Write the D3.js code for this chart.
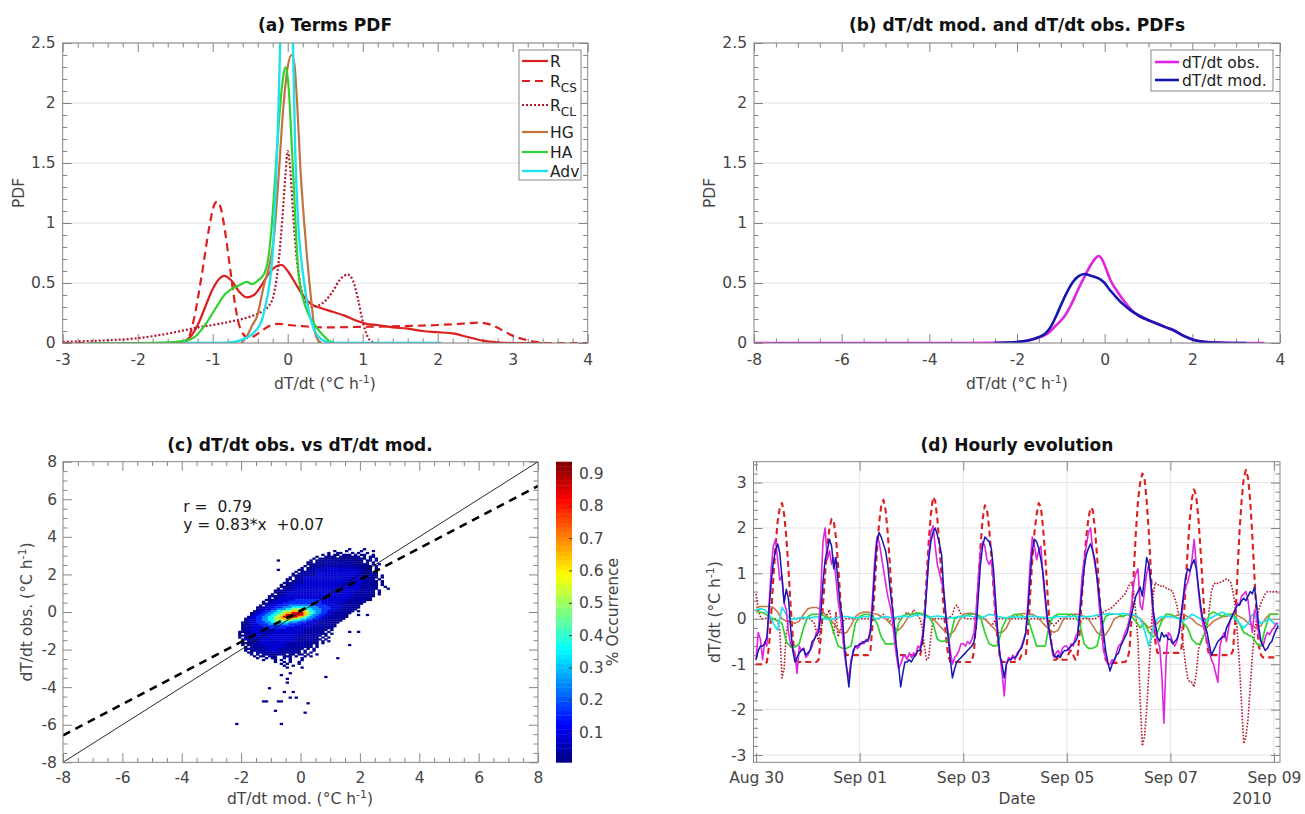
<!DOCTYPE html>
<html>
<head>
<meta charset="utf-8">
<title>dT/dt budget terms</title>
<script src="https://cdn.jsdelivr.net/npm/d3@7"></script>
<style>
  html,body{margin:0;padding:0;background:#fff;}
  svg{display:block;}
  text{font-family:"DejaVu Sans","Liberation Sans",sans-serif;}
</style>
</head>
<body>
<svg id="fig" width="1305" height="814"></svg>
<script>
// ======================= DATA =======================
// ---- panel (a): PDFs of the budget terms ([dT/dt, PDF]) ----
const termNames = ["R", "R_CS", "R_CL", "HG", "HA", "Adv"];
const pdfR = [[-1.6,0],[-1.4,0.01],[-1.3,0.05],[-1.2,0.15],[-1.1,0.3],[-1.0,0.45],[-0.92,0.53],[-0.85,0.56],[-0.75,0.52],[-0.65,0.43],[-0.55,0.38],[-0.45,0.4],[-0.35,0.48],[-0.25,0.58],[-0.15,0.64],[-0.08,0.65],[0.0,0.6],[0.1,0.5],[0.2,0.4],[0.3,0.33],[0.45,0.29],[0.6,0.26],[0.75,0.23],[0.9,0.19],[1.05,0.16],[1.2,0.15],[1.4,0.13],[1.6,0.12],[1.8,0.1],[2.0,0.09],[2.2,0.08],[2.4,0.05],[2.6,0.02],[2.8,0.005],[3.0,0],[3.4,0]];
const pdfRcs = [[-3,0],[-1.4,0],[-1.33,0.03],[-1.25,0.2],[-1.15,0.55],[-1.05,0.95],[-0.98,1.15],[-0.94,1.18],[-0.89,1.12],[-0.84,0.95],[-0.78,0.68],[-0.72,0.4],[-0.66,0.18],[-0.6,0.08],[-0.52,0.04],[-0.44,0.06],[-0.35,0.1],[-0.25,0.14],[-0.12,0.16],[0.0,0.15],[0.2,0.14],[0.5,0.13],[1.0,0.135],[1.5,0.14],[2.0,0.15],[2.3,0.16],[2.55,0.17],[2.72,0.15],[2.88,0.1],[3.0,0.06],[3.15,0.03],[3.3,0.01],[3.45,0],[4,0]];
const pdfRcl = [[-3,0.01],[-2.5,0.02],[-2,0.04],[-1.5,0.09],[-1.2,0.13],[-1,0.15],[-0.75,0.18],[-0.5,0.22],[-0.35,0.26],[-0.25,0.31],[-0.18,0.42],[-0.12,0.68],[-0.07,1.05],[-0.03,1.4],[0.0,1.6],[0.03,1.48],[0.07,1.1],[0.12,0.7],[0.18,0.45],[0.25,0.33],[0.32,0.3],[0.4,0.31],[0.5,0.35],[0.6,0.43],[0.7,0.53],[0.8,0.57],[0.87,0.52],[0.94,0.36],[1.0,0.18],[1.06,0.06],[1.12,0.01],[1.18,0]];
const pdfHG = [[-0.62,0],[-0.55,0.05],[-0.47,0.15],[-0.41,0.22],[-0.31,0.5],[-0.25,0.63],[-0.18,0.9],[-0.12,1.4],[-0.06,1.95],[0.0,2.3],[0.05,2.4],[0.09,2.32],[0.13,1.95],[0.17,1.45],[0.22,1.0],[0.26,0.7],[0.29,0.5],[0.33,0.26],[0.36,0.1],[0.4,0.03],[0.45,0]];
const pdfHA = [[-2.65,0],[-2.0,0],[-1.6,0.005],[-1.4,0.015],[-1.3,0.03],[-1.22,0.06],[-1.15,0.11],[-1.08,0.17],[-1.0,0.25],[-0.92,0.33],[-0.83,0.41],[-0.72,0.46],[-0.62,0.49],[-0.55,0.51],[-0.47,0.49],[-0.4,0.52],[-0.32,0.57],[-0.26,0.7],[-0.21,1.0],[-0.16,1.45],[-0.11,1.9],[-0.06,2.22],[-0.03,2.3],[0.01,2.15],[0.05,1.7],[0.09,1.2],[0.12,0.8],[0.15,0.55],[0.2,0.38],[0.27,0.25],[0.35,0.16],[0.45,0.08],[0.55,0.02],[0.65,0],[0.7,0]];
const pdfAdv = [[-1.4,0],[-0.9,0],[-0.7,0.01],[-0.6,0.03],[-0.5,0.06],[-0.43,0.1],[-0.35,0.18],[-0.29,0.33],[-0.24,0.5],[-0.2,0.75],[-0.16,1.3],[-0.13,1.8],[-0.1,2.5],[-0.06,3.1],[-0.01,3.4],[0.03,3.1],[0.07,2.5],[0.1,1.6],[0.14,1.0],[0.18,0.7],[0.22,0.5],[0.27,0.3],[0.32,0.17],[0.37,0.09],[0.45,0.03],[0.55,0.005],[0.7,0],[2.05,0]];
const aXTicks = [-3,-2,-1,0,1,2,3,4];
const aXLabels = ["-3","-2","-1","0","1","2","3","4"];
const pdfYTicks = [0,0.5,1,1.5,2,2.5];
const pdfYLabels = ["0","0.5","1","1.5","2","2.5"];

// ---- panel (b): PDFs of observed / modelled dT/dt ----
const obsModNames = ["dT/dt obs.", "dT/dt mod."];
const pdfObs = [[-8,0],[-3,0],[-2.2,0.004],[-1.9,0.012],[-1.7,0.025],[-1.5,0.045],[-1.3,0.08],[-1.1,0.15],[-0.92,0.22],[-0.75,0.33],[-0.6,0.45],[-0.45,0.56],[-0.3,0.66],[-0.2,0.71],[-0.13,0.725],[-0.05,0.69],[0.05,0.6],[0.15,0.51],[0.25,0.45],[0.4,0.37],[0.6,0.28],[0.8,0.22],[1.0,0.19],[1.2,0.16],[1.4,0.13],[1.56,0.11],[1.75,0.07],[1.94,0.04],[2.1,0.02],[2.3,0.01],[2.6,0.003],[3.0,0],[3.64,0]];
const pdfMod = [[-2.52,0],[-2.2,0.003],[-1.9,0.012],[-1.7,0.025],[-1.5,0.05],[-1.35,0.08],[-1.22,0.14],[-1.1,0.23],[-0.98,0.33],[-0.85,0.43],[-0.72,0.51],[-0.6,0.555],[-0.47,0.575],[-0.35,0.565],[-0.22,0.55],[-0.1,0.53],[0.0,0.5],[0.1,0.45],[0.22,0.4],[0.4,0.33],[0.6,0.27],[0.8,0.225],[1.0,0.19],[1.2,0.16],[1.4,0.13],[1.6,0.1],[1.8,0.06],[2.0,0.03],[2.2,0.012],[2.5,0.003],[2.8,0],[3.23,0]];
const bXTicks = [-8,-6,-4,-2,0,2,4];
const bXLabels = ["-8","-6","-4","-2","0","2","4"];

// ---- panel (c): 2-D histogram (% occurrence), 0.1 x 0.1 bins ----
const heatBinOrigin = -2.3;   // x of first bin column
const heatBin = 0.1;
const heatLevelValues = [0.02,0.04,0.08,0.16,0.25,0.35,0.5,0.65,0.85]; // levels '1'..'9'
// [y of bin bottom, first column, run-length string: level+count ('.' = empty)]
const heatRows = [
[3.3,39,"1 .4 1"],
[3.2,34,"1 .3 1 .4 1 .3 1"],
[3.1,32,"1 .2 12 .3 1 . 1 .2 1"],
[3.0,30,"1 . 1 . 12 . 13 . 1 . 12 .2 1"],
[2.9,28,"1 .2 14 . 17 . 1 . 12"],
[2.8,27,"1 . 116 . 1 . 1"],
[2.7,26,"1 . 13 23 14 22 14 . 12 . 1"],
[2.6,25,"12 . 13 26 1 23 13 . 1 . 1"],
[2.5,25,"14 212 15 . 1 . 1"],
[2.4,24,"1 . 12 215 14 . 1"],
[2.3,23,"1 . 12 24 35 2 32 25 13 . 1"],
[2.2,22,"12 . 23 33 2 310 24 1 . 1"],
[2.1,21,"1 . 12 23 316 23 . 1"],
[2.0,20,"1 . 26 316 23 12"],
[1.9,20,"12 26 316 23 12 . 1"],
[1.8,19,"1 . 1 22 320 23 12 . 1"],
[1.7,18,"12 . 23 320 23 1 . 1"],
[1.6,18,"1 . 1 23 320 23 12 . 1"],
[1.5,17,"12 25 320 23 12 . 1"],
[1.4,16,"1 . 1 22 322 24 12 . 1"],
[1.3,16,"12 23 322 24 12 .2 1"],
[1.2,15,"1 . 1 23 322 24 12 .3 1"],
[1.1,14,"13 24 322 24 1 . 1"],
[1.0,14,"12 22 323 25 12 . 1"],
[0.9,13,"1 . 1 22 323 25 12 . 1"],
[0.8,12,"13 23 323 25 12"],
[0.7,12,"1 . 1 2 324 25 12"],
[0.6,11,"13 2 36 49 39 26 12"],
[0.5,10,"1 . 1 2 35 411 38 25 12"],
[0.4,10,"12 2 34 413 36 26 12"],
[0.3,9,"1 . 2 33 44 59 44 35 24 12"],
[0.2,8,"12 2 33 43 53 66 53 44 34 24 12"],
[0.1,8,"1 2 33 42 53 62 75 62 53 43 33 24 12"],
[0.0,7,"1 2 32 42 52 62 73 85 7 62 52 42 33 24 12 . 1"],
[-0.1,6,"1 2 32 42 52 62 72 82 94 8 72 6 52 42 32 24 12"],
[-0.2,6,"1 32 42 52 62 72 8 96 8 7 6 52 42 32 24 12 .3 1 .2 1"],
[-0.3,5,"1 32 42 52 62 72 8 95 82 7 6 52 42 32 25 12"],
[-0.4,4,"1 2 32 42 52 62 72 85 72 62 52 42 32 25 12"],
[-0.5,4,"1 2 32 42 52 62 76 63 52 42 33 25 12"],
[-0.6,3,"12 2 32 43 52 66 53 43 34 25 12"],
[-0.7,3,"1 22 33 43 57 44 35 25 12"],
[-0.8,3,"1 22 34 411 36 26 12"],
[-0.9,3,"1 22 35 47 38 26 12"],
[-1.0,3,"1 22 318 27 1 . 1"],
[-1.1,2,"12 22 317 27 1 . 1 .6 1 .2 1"],
[-1.2,2,"1 . 1 22 317 26 12 . 1"],
[-1.3,2,"12 23 315 27 1 . 1"],
[-1.4,2,"1 . 1 23 314 26 1 . 1 . 1"],
[-1.5,3,"12 23 313 27 12 . 1"],
[-1.6,3,"1 . 1 23 312 27 1 . 1 . 1"],
[-1.7,3,"12 24 310 27 13 . 1"],
[-1.8,3,"1 . 1 24 38 27 12 . 1 .10 1"],
[-1.9,4,"1 . 1 25 36 27 12 . 1"],
[-2.0,4,"12 25 35 27 1 . 1 . 1"],
[-2.1,4,"1 . 1 25 33 27 1 . 1 .2 1"],
[-2.2,5,"12 . 26 3 26 12 . 1 . 1"],
[-2.3,6,"1 . 1 . 23 12 22 1 . 12 . 12 . 1 .2 1"],
[-2.4,7,"1 . 12 . 2 12 .2 13 . 1 .2 1 . 1"],
[-2.5,8,"1 .2 1 . 12 .2 1 . 1 .3 1 .11 1"],
[-2.6,10,"1 .3 1 . 1 .2 1 .3 1"],
[-2.7,14,"1 .2 1 . 1 .2 1"],
[-2.8,16,"1 . 1 .3 1"],
[-2.9,17,"1 .2 1"],
[-3.0,18,"1 .4 1"]
];
// isolated occupied bins [x of bin left, y of bin bottom]
const heatSparse = [[-0.8,2.2],[-0.8,2.7],[-0.7,-3.4],[-0.4,-3.3],[0.8,-3.5],[-0.5,-3.6],[-0.5,-3.8],[-1.1,-4.1],[-0.6,-4.3],[-0.3,-4.3],[-0.4,-4.6],[-0.2,-4.6],[-1.3,-4.8],[-1.2,-4.8],[-0.8,-4.8],[-0.7,-4.8],[0.2,-4.9],[-0.9,-5.3],[0.1,-5.4],[-2.2,-6.0],[-0.7,-6.0]];
const heatSparseValue = 0.02;
const fitText = ["r =  0.79", "y = 0.83*x  +0.07"];
const fitSlope = 0.83, fitIntercept = 0.07;
const cTicks = [-8,-6,-4,-2,0,2,4,6,8];
const cLabels = ["-8","-6","-4","-2","0","2","4","6","8"];
const cbDomain = [0.007, 0.936];
const cbTicks = [0.1,0.2,0.3,0.4,0.5,0.6,0.7,0.8,0.9];
const cbLabels = ["0.1","0.2","0.3","0.4","0.5","0.6","0.7","0.8","0.9"];

// ---- panel (d): hourly evolution (start 2010-08-30 00:00 UTC) ----
const seriesStartUTC = [2010, 7, 30, 0];
// hourly series
const obsHourly = [
 -0.9,-0.3,-0.45,-0.9,-0.5,-0.6,0.3,1.1,1.6,1.75,1.3,0.85,0.95,0.35,0.2,-0.3,-0.55,-0.65,-0.8,-1.2,-0.6,-0.7,-0.65,-0.85,
 -0.8,-0.7,-0.6,-0.45,-0.3,-0.2,0.6,1.7,2.0,1.3,1.5,1.2,1.35,0.9,0.4,0.1,-0.3,-0.8,-1.1,-1.3,-0.9,-0.75,-0.6,-0.65,
 -0.6,-0.5,-0.55,-0.45,-0.5,-0.2,0.5,1.3,1.8,1.7,1.4,1.1,0.8,0.5,0.3,0.05,-0.4,-0.8,-1.1,-1.0,-0.85,-0.8,-0.9,-0.75,
 -0.85,-0.75,-0.8,-0.6,-0.65,-0.4,0.0,0.7,1.4,1.9,2.05,1.6,1.2,1.0,0.8,0.6,0.1,-0.3,-0.7,-1.0,-0.85,-0.8,-0.7,-0.55,
 -0.55,-0.6,-0.5,-0.55,-0.45,-0.3,0.2,0.9,1.5,1.7,1.6,1.3,1.2,1.3,0.8,0.1,-0.4,-0.8,-1.2,-1.7,-1.0,-0.85,-0.9,-0.8,
 -0.9,-0.75,-0.7,-0.6,-0.45,-0.3,0.4,1.2,1.8,1.6,1.3,1.5,1.6,0.9,0.4,-0.1,-0.35,-0.6,-0.85,-0.75,-0.7,-0.8,-0.65,-0.6,
 -0.6,-0.7,-0.55,-0.6,-0.4,-0.3,0.2,0.9,1.3,1.6,1.9,2.0,1.5,1.2,0.9,0.3,-0.2,-0.7,-0.85,-1.0,-1.0,-0.9,-0.95,-0.75,
 -0.6,-0.55,-0.45,-0.3,-0.2,0.0,0.3,0.8,1.0,1.1,0.3,0.2,0.6,1.0,1.2,0.7,0.1,-0.3,-0.5,-0.6,-1.2,-2.3,-0.9,-0.3,
 -0.35,-0.5,-0.6,-0.5,-0.3,0.0,0.4,0.7,0.8,1.0,1.3,1.75,1.2,0.6,0.2,-0.1,-0.3,-0.5,-0.7,-0.9,-1.0,-1.2,-1.4,-0.6,
 -0.4,-0.3,-0.5,-0.2,0.0,0.1,0.2,0.35,0.3,0.5,0.55,0.6,0.4,0.0,-0.3,0.2,0.1,-0.4,-0.5,-0.6,-0.4,-0.3,-0.35,-0.25,
 -0.2,-0.1,-0.1];
const modHourly = [
 -0.9,-0.7,-0.6,-0.6,-0.55,-0.4,0.2,0.8,1.25,1.5,1.65,1.45,0.9,0.35,0.65,0.45,-0.2,-0.7,-0.95,-0.85,-0.75,-0.7,-0.65,-0.8,
 -0.75,-0.7,-0.5,-0.45,-0.35,-0.3,0.1,0.8,1.3,1.5,1.75,1.6,1.1,1.35,0.8,0.3,0.0,-0.6,-1.1,-1.5,-1.0,-0.7,-0.6,-0.6,
 -0.55,-0.55,-0.5,-0.5,-0.45,-0.3,0.3,1.1,1.7,1.9,1.8,1.65,1.5,1.2,0.7,0.3,-0.1,-0.6,-1.0,-1.5,-1.2,-0.95,-0.95,-0.9,
 -0.95,-0.85,-0.8,-0.7,-0.7,-0.5,-0.1,0.6,1.3,1.7,1.9,2.0,1.85,1.65,1.4,0.6,0.0,-0.4,-0.9,-1.3,-1.1,-0.95,-0.9,-0.85,
 -0.8,-0.75,-0.7,-0.65,-0.6,-0.5,-0.2,0.5,1.2,1.6,1.8,1.75,1.7,1.55,1.1,0.4,-0.3,-0.8,-1.0,-1.3,-1.0,-0.9,-0.9,-0.85,
 -0.85,-0.8,-0.7,-0.65,-0.5,-0.3,0.2,0.9,1.5,1.75,1.7,1.55,1.3,1.0,0.5,0.0,-0.3,-0.6,-0.8,-0.85,-0.8,-0.85,-0.75,-0.7,
 -0.7,-0.65,-0.6,-0.55,-0.5,-0.4,0.1,0.6,1.1,1.4,1.55,1.65,1.5,1.3,0.9,0.5,0.1,-0.3,-0.7,-0.95,-1.15,-1.0,-0.9,-0.8,
 -0.75,-0.6,-0.5,-0.4,-0.3,-0.1,0.1,0.3,0.5,0.6,0.7,0.5,0.9,1.35,1.2,0.8,0.2,-0.1,-0.4,-0.5,-0.3,-0.4,-0.35,-0.45,
 -0.45,-0.55,-0.5,-0.45,-0.3,0.1,0.5,0.9,1.1,1.05,1.2,1.3,1.1,0.7,0.3,0.0,-0.15,-0.3,-0.55,-0.8,-0.7,-0.6,-0.5,-0.45,
 -0.4,-0.4,-0.2,-0.1,0.0,0.1,0.2,0.3,0.3,0.4,0.45,0.4,0.5,0.6,0.55,0.7,0.3,-0.2,-0.5,-0.6,-0.7,-0.65,-0.55,-0.5,
 -0.35,-0.25,-0.15];
const rcsHourly = [
 -1.0,-1.0,-1.0,-1.0,-1.0,-0.95,-0.6,0.1,0.9,1.6,2.15,2.45,2.55,2.3,1.8,1.1,0.3,-0.4,-0.85,-0.95,-0.95,-0.95,-0.95,-0.95,
 -0.95,-0.95,-0.95,-0.95,-0.95,-0.9,-0.4,0.3,1.0,1.6,2.0,2.2,2.15,1.8,1.2,0.5,-0.2,-0.7,-0.8,-0.8,-0.8,-0.8,-0.8,-0.8,
 -0.8,-0.8,-0.8,-0.8,-0.8,-0.7,-0.1,0.7,1.5,2.1,2.5,2.62,2.4,1.9,1.2,0.4,-0.3,-0.7,-0.8,-0.8,-0.8,-0.8,-0.8,-0.8,
 -0.8,-0.8,-0.8,-0.8,-0.8,-0.6,0.1,0.9,1.7,2.3,2.68,2.6,2.2,1.6,0.9,0.2,-0.4,-0.8,-0.95,-0.95,-0.95,-0.95,-0.95,-0.95,
 -0.95,-0.95,-0.95,-0.95,-0.95,-0.7,0.0,0.8,1.6,2.2,2.5,2.4,2.0,1.4,0.7,0.0,-0.5,-0.85,-0.95,-0.95,-0.95,-0.95,-0.95,-0.95,
 -0.95,-0.95,-0.9,-0.8,-0.8,-0.8,-0.3,0.5,1.3,1.9,2.3,2.55,2.45,2.0,1.4,0.6,-0.1,-0.6,-0.9,-0.9,-0.85,-0.85,-0.9,-0.9,
 -0.9,-0.75,-0.7,-0.8,-0.9,-0.8,-0.3,0.5,1.2,1.8,2.2,2.45,2.4,2.0,1.4,0.6,-0.1,-0.6,-0.9,-0.97,-0.97,-0.97,-0.97,-0.97,
 -0.97,-0.97,-0.95,-0.95,-0.9,-0.7,0.0,1.0,1.9,2.6,3.0,3.2,3.1,2.6,1.9,1.0,0.1,-0.5,-0.75,-0.75,-0.75,-0.75,-0.75,-0.75,
 -0.75,-0.75,-0.75,-0.75,-0.75,-0.7,-0.2,0.7,1.5,2.2,2.65,2.85,2.7,2.2,1.5,0.7,-0.1,-0.6,-0.8,-0.8,-0.8,-0.8,-0.8,-0.8,
 -0.8,-0.8,-0.8,-0.8,-0.8,-0.7,-0.1,0.9,1.9,2.6,3.1,3.28,3.1,2.6,1.8,0.9,0.0,-0.6,-0.8,-0.85,-0.85,-0.85,-0.85,-0.85,
 -0.85,-0.85,-0.85];
const rclHourly = [
 0.55,0.2,0.05,0.0,0.0,0.02,0.0,-0.02,0.0,0.0,-0.05,-0.25,-1.3,-1.1,-0.3,-0.05,0.0,0.0,0.02,0.0,0.0,0.0,0.0,0.0,
 0.0,0.0,-0.05,-0.1,-0.3,-0.5,-0.2,0.0,0.05,0.1,0.2,-0.1,-0.35,0.15,-0.4,-0.25,-0.1,0.0,0.0,0.0,0.0,0.0,0.0,0.0,
 0.0,0.0,0.0,0.0,0.0,-0.05,0.0,0.0,0.0,0.0,0.05,0.1,0.05,0.0,-0.05,0.0,0.0,0.0,0.0,0.0,0.05,0.1,0.15,0.1,
 0.1,0.2,0.15,0.05,0.0,-0.2,-0.6,-0.9,-0.85,-0.4,0.0,0.0,0.0,0.0,0.0,0.0,0.0,0.0,0.05,0.1,0.25,0.3,0.2,0.1,
 0.05,0.0,0.0,0.0,0.0,0.0,0.0,0.0,0.0,0.0,0.0,-0.05,-0.1,-0.15,-0.1,0.0,0.0,0.0,0.0,0.0,0.0,0.0,0.0,0.0,
 0.0,0.0,0.0,0.0,0.0,0.0,0.0,0.0,0.0,0.0,0.0,0.0,0.0,0.0,0.0,0.0,-0.05,-0.1,-0.15,-0.1,-0.05,0.0,0.0,0.0,
 0.0,0.0,0.0,0.0,0.0,0.0,0.0,0.0,0.0,0.0,0.0,0.0,0.0,0.0,0.03,0.07,0.1,0.15,0.18,0.2,0.22,0.25,0.3,0.35,
 0.4,0.45,0.5,0.55,0.65,0.75,0.8,0.6,0.1,-0.5,-1.8,-2.8,-2.6,-2.0,-1.2,-0.4,0.5,0.8,0.75,0.75,0.7,0.72,0.68,0.65,
 0.65,0.6,0.45,0.3,0.05,-0.2,-0.6,-1.0,-1.3,-1.4,-1.4,-1.5,-1.2,-0.7,-0.5,-0.4,-0.3,-0.2,0.2,0.6,0.75,0.8,0.78,0.8,
 0.82,0.85,0.88,0.85,0.8,0.6,0.3,-0.3,-1.0,-1.9,-2.75,-2.6,-2.2,-1.5,-0.8,-0.3,0.0,0.2,0.35,0.45,0.55,0.6,0.6,0.58,
 0.6,0.6,0.55];
// 2-hourly series
const hg2h = [
 0.25,0.27,0.27,0.27,0.25,0.15,0.0,-0.05,-0.08,-0.1,-0.05,0.1,
 0.22,0.25,0.25,0.2,0.1,0.0,-0.1,-0.25,-0.33,-0.3,-0.15,0.05,
 0.12,0.15,0.15,0.12,0.1,0.05,0.0,-0.1,-0.2,-0.25,-0.15,0.0,
 0.1,0.12,0.12,0.1,0.05,0.0,-0.1,-0.2,-0.3,-0.35,-0.25,-0.05,
 0.1,0.12,0.12,0.1,0.05,0.0,-0.1,-0.2,-0.3,-0.3,-0.2,0.0,
 0.05,0.1,0.12,0.1,0.1,0.05,-0.05,-0.15,-0.25,-0.3,-0.25,-0.05,
 0.05,0.1,0.1,0.1,0.05,0.0,-0.15,-0.3,-0.37,-0.35,-0.2,0.0,
 0.05,0.05,0.1,0.1,0.05,0.0,-0.1,-0.2,-0.15,-0.1,0.0,0.05,
 0.05,0.05,0.1,0.1,0.05,0.0,-0.1,-0.15,-0.2,-0.15,-0.05,0.0,
 0.05,0.05,0.1,0.1,0.05,0.0,-0.1,-0.15,-0.2,-0.15,0.0,0.1,
 0.1,0.1];
const ha2h = [
 0.15,0.15,0.12,0.05,0.0,-0.05,-0.1,-0.5,-0.62,-0.62,-0.55,-0.2,
 0.05,0.1,0.1,0.1,0.05,0.0,-0.3,-0.6,-0.65,-0.65,-0.6,-0.1,
 0.05,0.1,0.1,0.05,-0.1,-0.4,-0.55,-0.55,-0.55,-0.1,0.05,0.1,
 0.1,0.12,0.12,0.1,0.05,-0.1,-0.45,-0.5,-0.48,-0.4,0.0,0.05,
 0.05,0.08,0.1,0.1,0.05,-0.3,-0.55,-0.6,-0.58,-0.2,0.0,0.05,
 0.1,0.1,0.05,0.0,-0.3,-0.6,-0.6,-0.6,-0.1,0.05,0.1,0.1,
 0.1,0.1,0.05,-0.1,-0.55,-0.65,-0.65,-0.6,-0.2,0.05,0.1,0.1,
 0.1,0.05,0.1,0.05,-0.05,-0.2,-0.1,-0.3,-0.4,-0.3,-0.05,0.1,
 0.1,0.05,0.0,-0.1,-0.2,-0.45,-0.55,-0.55,-0.3,0.1,0.15,0.1,
 0.05,0.1,0.1,0.05,-0.1,-0.3,-0.35,-0.4,-0.55,-0.6,-0.2,0.1,
 0.1,0.1];
const adv2h = [
 0.2,0.22,0.2,0.1,-0.1,-0.25,0.25,0.1,0.0,0.0,0.02,0.03,
 0.02,0.03,0.05,0.02,0.0,-0.02,0.0,0.03,0.05,0.05,0.03,0.02,
 0.03,0.05,0.05,0.02,0.0,0.03,0.05,0.03,0.02,0.05,0.06,0.05,
 0.05,0.08,0.1,0.06,0.03,0.05,0.06,0.05,0.03,0.02,0.03,0.05,
 0.05,0.07,0.05,0.03,0.02,0.05,0.1,0.08,0.05,0.03,0.02,0.04,
 0.05,0.04,0.03,0.05,0.06,0.05,0.04,0.03,0.02,0.03,0.05,0.05,
 0.05,0.05,0.06,0.05,0.05,0.05,0.06,0.08,0.1,0.1,0.12,0.1,
 0.1,0.12,0.1,0.1,0.08,0.0,-0.25,-0.6,-0.2,0.0,0.05,0.05,
 0.05,0.03,0.0,-0.05,0.02,0.1,0.05,0.0,-0.05,0.0,0.05,0.1,
 0.15,0.1,0.05,0.0,-0.1,-0.2,-0.1,0.1,0.0,-0.1,-0.05,0.0,
 -0.1,-0.15];
const dYTicks = [-3,-2,-1,0,1,2,3];
const dYLabels = ["-3","-2","-1","0","1","2","3"];
const dDateTicks = [[2010,7,30],[2010,8,1],[2010,8,3],[2010,8,5],[2010,8,7],[2010,8,9]];
const dDateLabels = ["Aug 30","Sep 01","Sep 03","Sep 05","Sep 07","Sep 09"];
const dYearLabel = "2010";

// ======================= DRAWING =======================
const FONT = '"DejaVu Sans","Liberation Sans",sans-serif';
const AXC = '#858585', TXC = '#454545';
const COL = {R:'#dc1f1f', RCS:'#dc1f1f', RCL:'#b3162c', HG:'#c27240', HA:'#2fd32f', ADV:'#20e2ee', OBS:'#e024e0', MOD:'#1616b0'};
const svg = d3.select('#fig');
const defs = svg.append('defs');

const PA = {x:62.7, y:43, w:525, h:300};
const PB = {x:754, y:43, w:526, h:300};
const PC = {x:63, y:461.7, w:475, h:300.6};
const CB = {x:556, y:461.7, w:16, h:300.6};
const PD = {x:753.5, y:461.7, w:526.5, h:300.6};

function addClip(id, p){
  defs.append('clipPath').attr('id', id).append('rect').attr('x',0).attr('y',0).attr('width',p.w).attr('height',p.h);
}
function notMajor(minor, major){
  return minor.filter(v => !major.some(t => Math.abs(t - v) < 1e-6));
}
function styleAxis(sel){
  sel.select('.domain').remove();
  sel.selectAll('line').attr('stroke', AXC).attr('stroke-width', 1);
  sel.selectAll('text').attr('fill', TXC).attr('font-size', 15.5).attr('font-family', FONT);
}
function drawAxes(g, x, y, o){
  const w = o.w, h = o.h, tl = o.tl || 9, tm = o.tm || 4.5;
  const grid = g.append('g');
  if (o.gridY) grid.selectAll('line.gy').data(o.yT).join('line').attr('class','gy')
      .attr('x1',0).attr('x2',w).attr('y1',d=>y(d)).attr('y2',d=>y(d)).attr('stroke','#e4e4e4');
  if (o.gridX) grid.selectAll('line.gx').data(o.xT).join('line').attr('class','gx')
      .attr('y1',0).attr('y2',h).attr('x1',d=>x(d)).attr('x2',d=>x(d)).attr('stroke','#e4e4e4');
  g.append('g').attr('transform',`translate(0,${h})`)
    .call(d3.axisBottom(x).tickValues(o.xT).tickFormat((d,i)=>o.xL[i]).tickSizeInner(-tl).tickSizeOuter(0).tickPadding(o.xPad||11)).call(styleAxis);
  g.append('g').call(d3.axisTop(x).tickValues(o.xT).tickFormat('').tickSizeInner(-tl).tickSizeOuter(0)).call(styleAxis);
  g.append('g').call(d3.axisLeft(y).tickValues(o.yT).tickFormat((d,i)=>o.yL[i]).tickSizeInner(-tl).tickSizeOuter(0).tickPadding(o.yPad||7)).call(styleAxis);
  g.append('g').attr('transform',`translate(${w},0)`)
    .call(d3.axisRight(y).tickValues(o.yT).tickFormat('').tickSizeInner(-tl).tickSizeOuter(0)).call(styleAxis);
  if (o.xMinor){
    const xm = notMajor(o.xMinor, o.xT);
    g.append('g').attr('transform',`translate(0,${h})`).call(d3.axisBottom(x).tickValues(xm).tickFormat('').tickSizeInner(-tm).tickSizeOuter(0)).call(styleAxis);
    g.append('g').call(d3.axisTop(x).tickValues(xm).tickFormat('').tickSizeInner(-tm).tickSizeOuter(0)).call(styleAxis);
  }
  if (o.yMinor){
    const ym = notMajor(o.yMinor, o.yT);
    g.append('g').call(d3.axisLeft(y).tickValues(ym).tickFormat('').tickSizeInner(-tm).tickSizeOuter(0)).call(styleAxis);
    g.append('g').attr('transform',`translate(${w},0)`).call(d3.axisRight(y).tickValues(ym).tickFormat('').tickSizeInner(-tm).tickSizeOuter(0)).call(styleAxis);
  }
}
function drawBox(g, w, h){
  g.append('rect').attr('x',0).attr('y',0).attr('width',w).attr('height',h)
    .attr('fill','none').attr('stroke',AXC).attr('stroke-width',1);
}
function title(x, y, s){
  svg.append('text').attr('x',x).attr('y',y).attr('text-anchor','middle')
    .attr('font-size',17).attr('font-weight','bold').attr('fill','#111').text(s);
}
function unitLabel(sel, prefix){
  sel.append('tspan').text(prefix + ' (°C h');
  sel.append('tspan').attr('dy',-6).attr('font-size',11).text('-1');
  sel.append('tspan').attr('dy',6).text(')');
}
function xLabel(x, y, prefix){
  const t = svg.append('text').attr('x',x).attr('y',y).attr('text-anchor','middle')
    .attr('font-size',15.5).attr('fill',TXC);
  if (prefix === null) return t;
  unitLabel(t, prefix); return t;
}
// x = visual centre of the rotated label
function yLabel(x, y, prefix, plain){
  const t = svg.append('text').attr('transform',`translate(${x + 5.5},${y}) rotate(-90)`)
    .attr('text-anchor','middle').attr('font-size',15.5).attr('fill',TXC);
  if (plain) t.text(plain); else unitLabel(t, prefix);
  return t;
}

// ---------- panel (a) ----------
const gA = svg.append('g').attr('transform',`translate(${PA.x},${PA.y})`);
const xA = d3.scaleLinear().domain([-3,4]).range([0,PA.w]);
const yA = d3.scaleLinear().domain([0,2.5]).range([PA.h,0]);
drawAxes(gA, xA, yA, {w:PA.w, h:PA.h, xT:aXTicks, xL:aXLabels, yT:pdfYTicks, yL:pdfYLabels,
  xMinor:d3.range(-3,4.0001,0.2), yMinor:d3.range(0,2.5001,0.1), gridY:true});
addClip('clipA', PA);
const lineA = d3.line().x(d=>xA(d[0])).y(d=>yA(d[1])).curve(d3.curveMonotoneX);
const termSeries = [
  {data:pdfR,   color:COL.R,   dash:null,  w:2.2},
  {data:pdfRcs, color:COL.RCS, dash:'8,5', w:2.2},
  {data:pdfRcl, color:COL.RCL, dash:'2,2', w:2.2},
  {data:pdfHG,  color:COL.HG,  dash:null,  w:2.2},
  {data:pdfHA,  color:COL.HA,  dash:null,  w:2.2},
  {data:pdfAdv, color:COL.ADV, dash:null,  w:2.4}
];
const plotA = gA.append('g').attr('clip-path','url(#clipA)');
termSeries.forEach(s => {
  plotA.append('path').attr('d', lineA(s.data)).attr('fill','none').attr('stroke',s.color)
    .attr('stroke-width',s.w).attr('stroke-dasharray',s.dash).attr('stroke-linejoin','round');
});
drawBox(gA, PA.w, PA.h);
// legend (a)
const legA = gA.append('g').attr('transform',`translate(${519-PA.x},${50-PA.y})`);
legA.append('rect').attr('width',62).attr('height',130).attr('fill','#fff').attr('stroke',AXC);
const legRowsA = [11, 31, 55, 82, 102, 121];
termNames.forEach((n,i) => {
  const s = termSeries[i], yy = legRowsA[i];
  legA.append('line').attr('x1',3).attr('x2',29).attr('y1',yy).attr('y2',yy)
    .attr('stroke',s.color).attr('stroke-width',s.w).attr('stroke-dasharray',s.dash);
  const t = legA.append('text').attr('x',31).attr('y',yy+5.5).attr('font-size',15.5).attr('fill','#222');
  const parts = n.split('_');
  t.append('tspan').text(parts[0]);
  if (parts[1]) t.append('tspan').attr('dy',5).attr('font-size',12).text(parts[1]);
});
title(325, 31, '(a) Terms PDF');
yLabel(18, PA.y + PA.h/2, null, 'PDF');
xLabel(325, 389, 'dT/dt');

// ---------- panel (b) ----------
const gB = svg.append('g').attr('transform',`translate(${PB.x},${PB.y})`);
const xB = d3.scaleLinear().domain([-8,4]).range([0,PB.w]);
const yB = d3.scaleLinear().domain([0,2.5]).range([PB.h,0]);
drawAxes(gB, xB, yB, {w:PB.w, h:PB.h, xT:bXTicks, xL:bXLabels, yT:pdfYTicks, yL:pdfYLabels,
  xMinor:d3.range(-8,4.0001,0.5), yMinor:d3.range(0,2.5001,0.1), gridY:true});
addClip('clipB', PB);
const lineB = d3.line().x(d=>xB(d[0])).y(d=>yB(d[1])).curve(d3.curveMonotoneX);
const plotB = gB.append('g').attr('clip-path','url(#clipB)');
const obsModSeries = [{data:pdfObs, color:COL.OBS}, {data:pdfMod, color:COL.MOD}];
obsModSeries.forEach(s => {
  plotB.append('path').attr('d', lineB(s.data)).attr('fill','none').attr('stroke',s.color)
    .attr('stroke-width',2.6).attr('stroke-linejoin','round');
});
drawBox(gB, PB.w, PB.h);
const legB = gB.append('g').attr('transform',`translate(${1151-PB.x},${50-PB.y})`);
legB.append('rect').attr('width',122).attr('height',41).attr('fill','#fff').attr('stroke',AXC);
[12, 30].forEach((yy,i) => {
  legB.append('line').attr('x1',4).attr('x2',28).attr('y1',yy).attr('y2',yy)
    .attr('stroke',obsModSeries[i].color).attr('stroke-width',2.6);
  legB.append('text').attr('x',31).attr('y',yy+5.5).attr('font-size',15.5).attr('fill','#222').text(obsModNames[i]);
});
title(1017, 31, '(b) dT/dt mod. and dT/dt obs. PDFs');
yLabel(709, PB.y + PB.h/2, null, 'PDF');
xLabel(1017, 389, 'dT/dt');

// ---------- panel (c) ----------
const gC = svg.append('g').attr('transform',`translate(${PC.x},${PC.y})`);
const xC = d3.scaleLinear().domain([-8,8]).range([0,PC.w]);
const yC = d3.scaleLinear().domain([-8,8]).range([PC.h,0]);
addClip('clipC', PC);
function jet(t){
  t = Math.max(0, Math.min(1, t));
  const c = v => Math.round(255*Math.max(0, Math.min(1, v)));
  return `rgb(${c(1.5-Math.abs(4*t-3))},${c(1.5-Math.abs(4*t-2))},${c(1.5-Math.abs(4*t-1))})`;
}
const colorC = v => jet((v - cbDomain[0])/(cbDomain[1]-cbDomain[0]));
// decode bins
const heatCells = [];
heatRows.forEach(([y0, start, rle]) => {
  let i = start;
  rle.split(' ').forEach(tok => {
    const ch = tok[0], n = tok.length > 1 ? +tok.slice(1) : 1;
    for (let k=0; k<n; k++){
      if (ch !== '.') heatCells.push({x0: heatBinOrigin + heatBin*i, y0: y0, v: heatLevelValues[+ch-1]});
      i++;
    }
  });
});
heatSparse.forEach(([x0,y0]) => heatCells.push({x0, y0, v: heatSparseValue}));
drawAxes(gC, xC, yC, {w:PC.w, h:PC.h, xT:cTicks, xL:cLabels, yT:cTicks, yL:cLabels,
  xMinor:d3.range(-8,8.0001,0.5), yMinor:d3.range(-8,8.0001,0.5), xPad:10, yPad:6});
const plotC = gC.append('g').attr('clip-path','url(#clipC)');
plotC.append('g').selectAll('rect').data(heatCells).join('rect')
  .attr('x', d => xC(d.x0))
  .attr('y', d => yC(d.y0 + heatBin))
  .attr('width', d => xC(d.x0 + heatBin) - xC(d.x0) + 0.35)
  .attr('height', d => yC(d.y0) - yC(d.y0 + heatBin) + 0.35)
  .attr('fill', d => colorC(d.v));
plotC.append('line').attr('x1',xC(-8)).attr('y1',yC(-8)).attr('x2',xC(8)).attr('y2',yC(8))
  .attr('stroke','#111').attr('stroke-width',0.9);
plotC.append('line').attr('x1',xC(-8)).attr('y1',yC(fitSlope*-8+fitIntercept)).attr('x2',xC(8)).attr('y2',yC(fitSlope*8+fitIntercept))
  .attr('stroke','#000').attr('stroke-width',2.6).attr('stroke-dasharray','8,6');
drawBox(gC, PC.w, PC.h);
fitText.forEach((s,i) => {
  gC.append('text').attr('x', xC(-3.95)).attr('y', yC(5.3) + i*18).attr('font-size',15.5)
    .attr('fill','#1a1a1a').style('white-space','pre').text(s);
});
title(300, 451, '(c) dT/dt obs. vs dT/dt mod.');
yLabel(26, PC.y + PC.h/2, 'dT/dt obs.');
xLabel(300, 804, 'dT/dt mod.');
// colorbar
const gCB = svg.append('g').attr('transform',`translate(${CB.x},${CB.y})`);
const yCB = d3.scaleLinear().domain(cbDomain).range([CB.h,0]);
const nCB = 64, stepCB = (cbDomain[1]-cbDomain[0])/nCB;
gCB.selectAll('rect.cb').data(d3.range(nCB)).join('rect').attr('class','cb')
  .attr('x',0).attr('width',CB.w)
  .attr('y', k => yCB(cbDomain[0] + (k+1)*stepCB))
  .attr('height', k => yCB(cbDomain[0] + k*stepCB) - yCB(cbDomain[0] + (k+1)*stepCB) + 0.4)
  .attr('fill', k => colorC(cbDomain[0] + (k+0.5)*stepCB));
gCB.append('g').attr('transform',`translate(${CB.w},0)`)
  .call(d3.axisRight(yCB).tickValues(cbTicks).tickFormat((d,i)=>cbLabels[i]).tickSizeInner(-3).tickSizeOuter(0).tickPadding(7))
  .call(styleAxis);
gCB.selectAll('line').attr('stroke','#333');
yLabel(612, CB.y + CB.h/2, null, '% Occurrence');

// ---------- panel (d) ----------
const gD = svg.append('g').attr('transform',`translate(${PD.x},${PD.y})`);
const t0 = Date.UTC(seriesStartUTC[0], seriesStartUTC[1], seriesStartUTC[2], seriesStartUTC[3]);
const xD = d3.scaleUtc().domain([new Date(t0 - 1.2*3600e3), new Date(t0 + (240 + 2.8)*3600e3)]).range([0,PD.w]);
const yD = d3.scaleLinear().domain([-3.16,3.46]).range([PD.h,0]);
const dTickDates = dDateTicks.map(a => new Date(Date.UTC(a[0],a[1],a[2])));
drawAxes(gD, xD, yD, {w:PD.w, h:PD.h, xT:dTickDates, xL:dDateLabels, yT:dYTicks, yL:dYLabels,
  yMinor:d3.range(-3.0,3.4001,0.2), gridX:true, gridY:true, xPad:10, yPad:7});
addClip('clipD', PD);
const toPts = (arr, stepH) => arr.map((v,i) => ({t:new Date(t0 + i*stepH*3600e3), v}));
const lineD = d3.line().x(d=>xD(d.t)).y(d=>yD(d.v));
const plotD = gD.append('g').attr('clip-path','url(#clipD)');
const dSeries = [
  {pts:toPts(rcsHourly,1), color:COL.RCS, w:2.1, dash:'6,4'},
  {pts:toPts(rclHourly,1), color:COL.RCL, w:1.6, dash:'1.6,1.6'},
  {pts:toPts(hg2h,2),      color:COL.HG,  w:1.5, dash:null},
  {pts:toPts(ha2h,2),      color:COL.HA,  w:1.7, dash:null},
  {pts:toPts(adv2h,2),     color:COL.ADV, w:1.7, dash:null},
  {pts:toPts(obsHourly,1), color:COL.OBS, w:1.6, dash:null},
  {pts:toPts(modHourly,1), color:COL.MOD, w:1.5, dash:null}
];
dSeries.forEach(s => {
  plotD.append('path').attr('d', lineD(s.pts)).attr('fill','none').attr('stroke',s.color)
    .attr('stroke-width',s.w).attr('stroke-dasharray',s.dash).attr('stroke-linejoin','round');
});
drawBox(gD, PD.w, PD.h);
title(1017, 451, '(d) Hourly evolution');
yLabel(714, PD.y + PD.h/2, 'dT/dt');
xLabel(1017, 804, null).text('Date');
xLabel(1252, 804, null).text(dYearLabel);
</script>
</body>
</html>
